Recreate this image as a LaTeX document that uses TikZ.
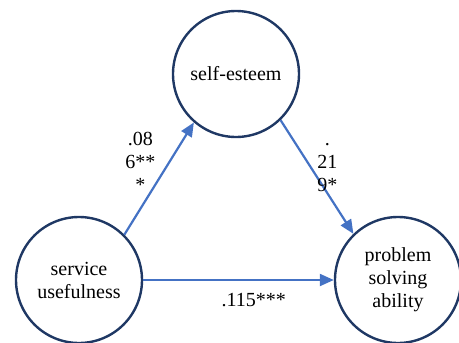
\documentclass[tikz,border=0pt]{standalone}
\usepackage{fontspec}
\setmainfont{Liberation Serif}
\usetikzlibrary{arrows.meta}
\definecolor{navy}{RGB}{31,56,100}
\definecolor{pathblue}{RGB}{68,114,196}
\def\drawpath{\draw[color=pathblue, line width=2.2pt, -{Triangle[length=14pt,width=12pt]}]}
\def\varnode{\node[circle,draw=navy,line width=2.4pt,minimum size=126pt,inner sep=0pt,align=center]}

\begin{document}
\begin{tikzpicture}[x=1pt,y=-1pt,font=\fontsize{20}{23}\selectfont,
  coef/.style={inner sep=1pt,align=center,text=black}]
\useasboundingbox (0,0) rectangle (459,343);
\varnode (se) at (236,74) {self-esteem};
\varnode (su) at (79,280) {service\\usefulness};
\varnode (pb) at (398,280) {problem\\solving\\ability};
\drawpath (su.45) to node[coef,pos=0.65,left=12pt] {.08\\6**\\*} (se.229);
\drawpath (se.314) to node[coef,pos=0.42,right=4pt] {.\\21\\9*} (pb.134);
\drawpath (su.east) to node[coef,pos=0.58,below=11pt] {.115***} (pb.west);
\end{tikzpicture}
\end{document}
